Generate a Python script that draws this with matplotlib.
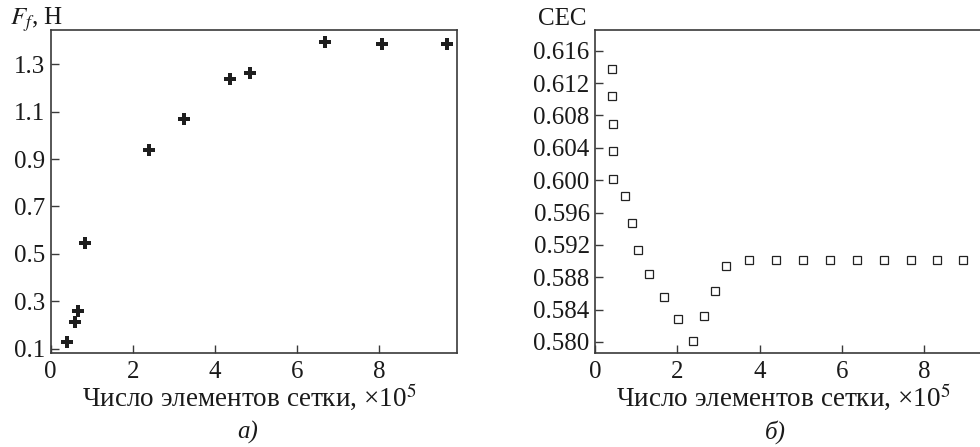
import matplotlib
matplotlib.use("Agg")
import matplotlib.pyplot as plt

plt.rcParams['font.family'] = ['Liberation Serif', 'DejaVu Serif']
plt.rcParams['mathtext.fontset'] = 'stix'

# Panel a: friction force vs mesh elements
xa = [0.40, 0.584, 0.672, 0.824, 2.384, 3.248, 4.368, 4.864, 6.688, 8.072, 9.648]
ya = [0.128, 0.211, 0.259, 0.545, 0.938, 1.070, 1.239, 1.263, 1.394, 1.387, 1.385]
yticks_a = [0.1, 0.3, 0.5, 0.7, 0.9, 1.1, 1.3]
yticklabels_a = ['0.1', '0.3', '0.5', '0.7', '0.9', '1.1', '1.3']

# Panel b: CEC vs mesh elements
xb = [0.414, 0.414, 0.422, 0.43, 0.438, 0.733, 0.892, 1.044, 1.315, 1.673, 2.008,
      2.375, 2.653, 2.908, 3.179, 3.753, 4.398, 5.052, 5.713, 6.367, 7.02, 7.689,
      8.319, 8.964]
yb = [0.6137, 0.6104, 0.6069, 0.6036, 0.6002, 0.5980, 0.5947, 0.5914, 0.5884,
      0.5856, 0.5828, 0.5801, 0.5832, 0.5863, 0.5894, 0.5901, 0.5901, 0.5901,
      0.5901, 0.5901, 0.5901, 0.5901, 0.5901, 0.5901]
yticks_b = [0.580, 0.584, 0.588, 0.592, 0.596, 0.600, 0.604, 0.608, 0.612, 0.616]
yticklabels_b = ['0.580', '0.584', '0.588', '0.592', '0.596', '0.600', '0.604',
                 '0.608', '0.612', '0.616']
xticks = [0, 2, 4, 6, 8]
xticklabels = ['0', '2', '4', '6', '8']

W, H = 980, 447
fig = plt.figure(figsize=(W / 100, H / 100), dpi=100)

spine_c = '#3a3a3a'
fs = 18
fsl = 19.5

def style(ax):
    for s in ax.spines.values():
        s.set_linewidth(1.2)
        s.set_color(spine_c)
    ax.tick_params(direction='in', length=6, width=1.0, color=spine_c,
                   labelsize=fs, labelcolor='#1a1a1a', pad=4)
    ax.tick_params(axis='x', pad=6)

axw = 406.5 / W
axh = (353 - 30) / H
bot = (H - 353) / H

ax1 = fig.add_axes([50.7 / W, bot, axw, axh])
ax1.plot(xa, ya, linestyle='none', marker='P', markersize=9.0, color='#1e1e1e',
         markeredgewidth=0)
ax1.set_xlim(0.145, 9.90)
ax1.set_ylim(0.082, 1.444)
ax1.set_xticks(xticks)
ax1.set_xticklabels(xticklabels)
ax1.set_yticks(yticks_a)
ax1.set_yticklabels(yticklabels_a)
style(ax1)

ax2 = fig.add_axes([595.3 / W, bot, axw, axh])
ax2.plot(xb, yb, linestyle='none', marker='s', markersize=5.2, markerfacecolor='white',
         markeredgecolor='#222222', markeredgewidth=0.9)
ax2.set_xlim(0.15, 9.90)
ax2.set_ylim(0.57864, 0.61855)
ax2.set_xticks(xticks)
ax2.set_xticklabels(xticklabels)
ax2.set_yticks(yticks_b)
ax2.set_yticklabels(yticklabels_b)
style(ax2)

tc = '#1a1a1a'
fig.text(10 / W, 1 - 20 / H, r'$F_f$, Н', fontsize=fs, color=tc, ha='left', va='center')
fig.text(538 / W, 1 - 19 / H, 'CEC', fontsize=fs, color=tc, ha='left', va='center')

xlabel = 'Число элементов сетки, ×10$^5$'
fig.text(249.5 / W, 1 - 397 / H, xlabel, fontsize=fsl, color=tc, ha='center', va='center')
fig.text(783 / W, 1 - 397 / H, xlabel, fontsize=fsl, color=tc, ha='center', va='center')
fig.text(248 / W, 1 - 432 / H, 'а)', fontsize=fs, color=tc, ha='center', va='center',
         style='italic')
fig.text(775 / W, 1 - 432 / H, 'б)', fontsize=fs, color=tc, ha='center', va='center',
         style='italic')

fig.savefig('out.png', dpi=100)
